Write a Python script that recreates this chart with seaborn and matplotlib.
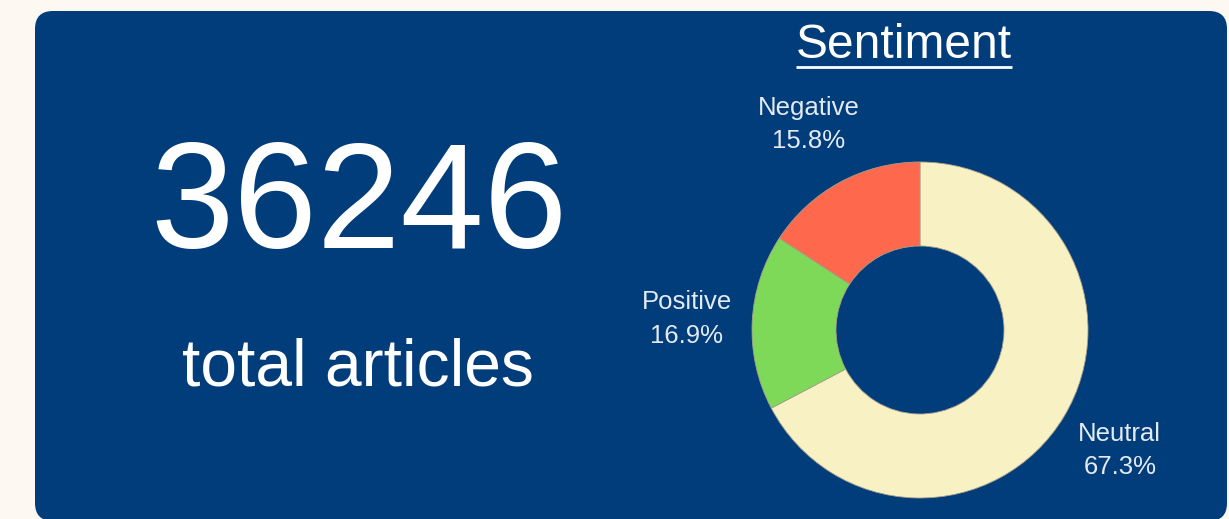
import matplotlib
matplotlib.use("Agg")
import matplotlib.pyplot as plt
import seaborn as sns
from matplotlib.patches import FancyBboxPatch
import numpy as np

# data
total_articles = 36246
sentiments = ["Neutral", "Positive", "Negative"]
shares = [67.3, 16.9, 15.8]

page_bg = "#fdf8f1"
card_bg = "#013c7b"
slice_colors = sns.color_palette(["#f7f1c4", "#7fd958", "#fe684c"])

sns.set_theme(style="white")
plt.rcParams["font.family"] = ["Liberation Sans", "DejaVu Sans"]

W, H = 1229, 519
fig = plt.figure(figsize=(W / 100, H / 100), dpi=100, facecolor=page_bg)

# background layer in pixel coordinates (y downwards)
bg = fig.add_axes([0, 0, 1, 1])
bg.set_xlim(0, W)
bg.set_ylim(H, 0)
bg.axis("off")
bg.add_patch(FancyBboxPatch((35, 11), 1192, 510,
                            boxstyle="round,pad=0,rounding_size=18",
                            fc=card_bg, ec="none"))

bg.text(359, 248, str(total_articles), color="white", fontsize=108,
        ha="center", va="baseline")
bg.text(358, 385, "total articles", color="white", fontsize=47.5,
        ha="center", va="baseline")

title = bg.text(904, 58, "Sentiment", color="white", fontsize=34.5,
                ha="center", va="baseline")
fig.canvas.draw()
bb = title.get_window_extent().transformed(bg.transData.inverted())
bg.plot([bb.x0, bb.x1], [67, 67], color="white", lw=2, solid_capstyle="butt")

# donut
cx, cy, R, lim = 920, 330, 168, 1.5
half = R * lim
ax = fig.add_axes([(cx - half) / W, (H - cy - half) / H, 2 * half / W, 2 * half / H])
wedges, _ = ax.pie(shares, colors=slice_colors, startangle=90, counterclock=False,
                   wedgeprops=dict(width=0.5, edgecolor="#a89f88", linewidth=0.6))
ax.set_xlim(-lim, lim)
ax.set_ylim(-lim, lim)
ax.axis("off")

label_color = "#e4eaf1"
for w, name, val in zip(wedges, sentiments, shares):
    ang = np.deg2rad((w.theta1 + w.theta2) / 2)
    x, y = 1.39 * np.cos(ang), 1.39 * np.sin(ang)
    ax.annotate(name, (x, y), xytext=(0, 12), textcoords="offset points",
                ha="center", va="center", color=label_color, fontsize=18.5,
                annotation_clip=False)
    ax.annotate(f"{val}%", (x, y), xytext=(0, -12), textcoords="offset points",
                ha="center", va="center", color=label_color, fontsize=18.5,
                annotation_clip=False)

fig.savefig("out.png", dpi=100, facecolor=page_bg)
